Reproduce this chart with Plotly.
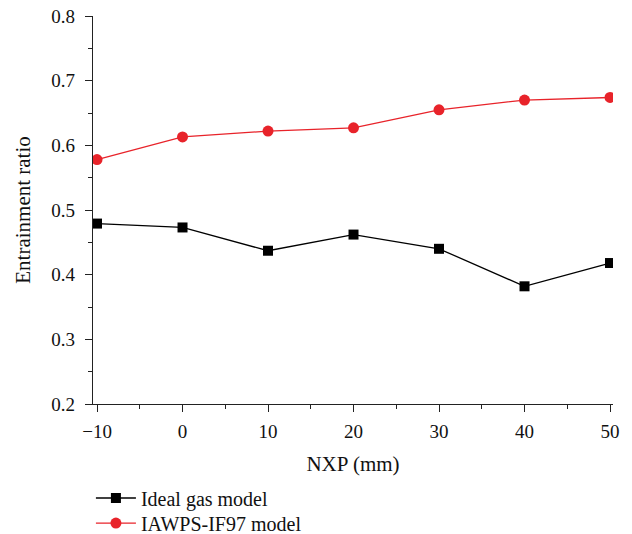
import plotly.graph_objects as go

# NXP position (mm) and entrainment ratio for the two property models
nxp = [-10, 0, 10, 20, 30, 40, 50]
ideal_gas = [0.479, 0.473, 0.437, 0.462, 0.440, 0.382, 0.418]
iapws_if97 = [0.578, 0.613, 0.622, 0.627, 0.655, 0.670, 0.674]

x_ticks = [-10, 0, 10, 20, 30, 40, 50]
x_tick_text = ["\u221210", "0", "10", "20", "30", "40", "50"]
y_ticks = [0.2, 0.3, 0.4, 0.5, 0.6, 0.7, 0.8]

FONT = "Liberation Serif"
RED = "#e8232a"
INK = "#111"

fig = go.Figure()
fig.add_trace(go.Scatter(
    x=nxp, y=ideal_gas, name="Ideal gas model", mode="lines+markers",
    line=dict(color="black", width=1.3),
    marker=dict(symbol="square", size=10, color="black"),
    legend="legend",
))
fig.add_trace(go.Scatter(
    x=nxp, y=iapws_if97, name="IAWPS-IF97 model", mode="lines+markers",
    line=dict(color=RED, width=1.3),
    marker=dict(symbol="circle", size=11, color=RED),
    legend="legend2",
))

axis_common = dict(
    showline=True, linecolor="#222", linewidth=1.3,
    ticks="outside", ticklen=7, tickwidth=1.2, tickcolor="#222",
    showgrid=False, zeroline=False,
    tickfont=dict(family=FONT, size=19, color=INK),
)

fig.update_xaxes(
    range=[-10.47, 50.35], tickvals=x_ticks, ticktext=x_tick_text,
    minor=dict(dtick=5, ticks="outside", ticklen=4, tickwidth=1.2, tickcolor="#222"),
    title=dict(text="NXP (mm)", font=dict(family=FONT, size=21, color=INK), standoff=15),
    ticklabelstandoff=3,
    **axis_common,
)
fig.update_yaxes(
    range=[0.2, 0.8], tickvals=y_ticks, tickformat=".1f",
    minor=dict(dtick=0.05, ticks="outside", ticklen=4, tickwidth=1.2, tickcolor="#222"),
    title=dict(text="Entrainment ratio", font=dict(family=FONT, size=21, color=INK), standoff=14),
    ticklabelstandoff=6,
    **axis_common,
)

legend_style = dict(
    xanchor="left", yanchor="top", itemwidth=40,
    font=dict(family=FONT, size=20, color=INK),
    bgcolor="rgba(0,0,0,0)",
)

fig.update_layout(
    width=632, height=534,
    margin=dict(l=93, r=19, t=16, b=130, autoexpand=False),
    plot_bgcolor="white", paper_bgcolor="white",
    font=dict(family=FONT, size=20, color=INK),
    legend=dict(x=-0.004, y=-0.192, **legend_style),
    legend2=dict(x=-0.004, y=-0.2567, **legend_style),
    showlegend=True,
)

fig.write_html("out.html")
